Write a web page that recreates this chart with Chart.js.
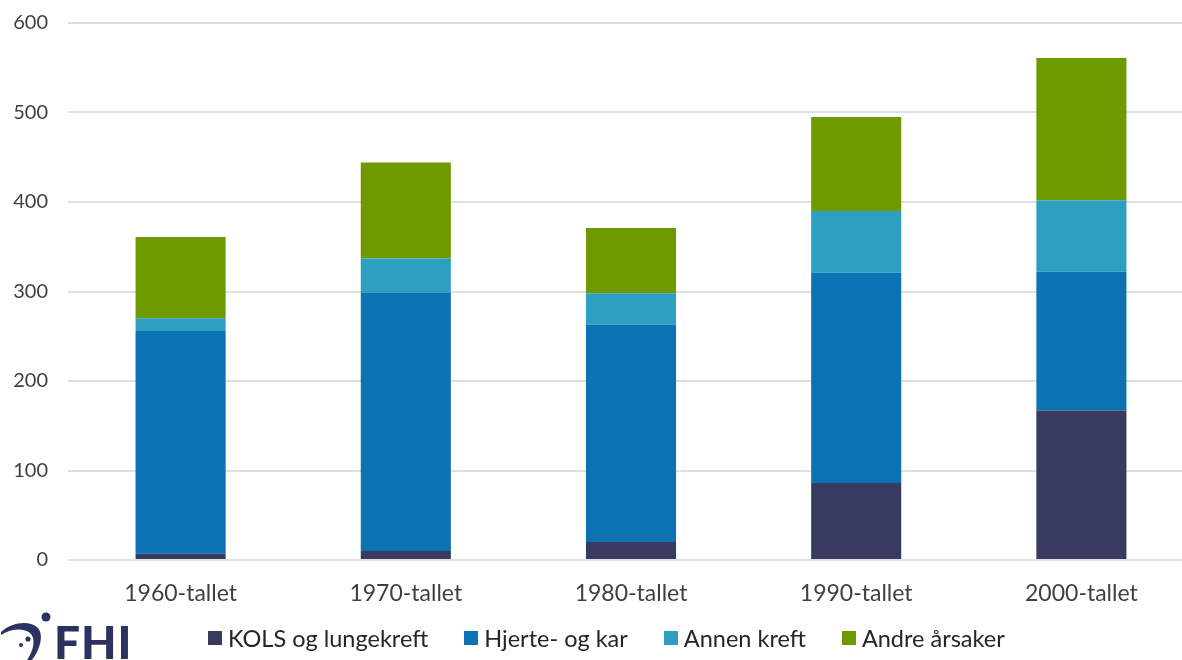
<!DOCTYPE html>
<html lang="no">
<head>
<meta charset="utf-8">
<title>Dødsårsaker per tiår</title>
<script src="https://cdn.jsdelivr.net/npm/chart.js@4/dist/chart.umd.min.js"></script>
<style>
  html, body { margin: 0; padding: 0; background: #fff; overflow: hidden; }
  body { width: 1182px; height: 660px; position: relative; font-family: Lato, "Open Sans", sans-serif; }
  #wrap { position: absolute; left: 0; top: -9px; width: 1194px; height: 669px; }
  #legend {
    position: absolute; left: 208px; top: 624px;
    display: flex; gap: 36px; align-items: center;
    font-size: 23.5px; color: #262626; white-space: nowrap;
  }
  #legend .item { display: flex; align-items: center; }
  #legend .box  { width: 14px; height: 14px; margin-right: 6px; }
  #logo { position: absolute; left: 0; top: 608px; width: 140px; height: 52px; overflow: hidden; }
  #logo span {
    position: absolute; left: 54px; top: 6px;
    font: 900 46px Lato, sans-serif; color: #2b3160; letter-spacing: 1px;
  }
</style>
</head>
<body>
<div id="wrap"><canvas id="chart" width="1194" height="669"></canvas></div>
<div id="logo">
  <svg width="52" height="52" viewBox="0 0 52 52">
    <path d="M1 24 C 12 14, 30 12, 38 20 C 44 27, 40 42, 32 52 L 27 52 C 34 42, 36 30, 30 25 C 24 20, 12 20, 1 27 Z" fill="#2b3160"/>
    <circle cx="46" cy="9" r="4.5" fill="#2b3160"/>
    <circle cx="28" cy="31" r="2.6" fill="#2b3160"/>
    <circle cx="21" cy="37" r="2" fill="#2b3160"/>
  </svg>
  <span>FHI</span>
</div>
<div id="legend"></div>

<script>
'use strict';

// ── Data ────────────────────────────────────────────────
const decades   = ['1960-tallet', '1970-tallet', '1980-tallet', '1990-tallet', '2000-tallet'];
const kolsLunge = [7, 10, 20, 86, 167];
const hjerteKar = [249, 289, 243, 235, 155];
const annenKreft = [14, 38, 35, 69, 80];
const andre     = [91, 107, 73, 105, 159];
const yTicks    = [0, 100, 200, 300, 400, 500, 600];

const seriesNames  = ['KOLS og lungekreft', 'Hjerte- og kar', 'Annen kreft', 'Andre årsaker'];
const seriesColors = ['#393a5f', '#0b73b4', '#2da0c1', '#6e9a00'];
const seriesData   = [kolsLunge, hjerteKar, annenKreft, andre];

const TXT = '#404040';

// ── Chart ───────────────────────────────────────────────
const chart = new Chart(document.getElementById('chart'), {
  type: 'bar',
  data: {
    labels: decades,
    datasets: seriesNames.map((name, i) => ({
      label: name,
      data: seriesData[i],
      backgroundColor: seriesColors[i],
      borderWidth: 0,
      categoryPercentage: 1,
      barPercentage: 0.4,
    })),
  },
  options: {
    responsive: false,
    devicePixelRatio: 1,
    animation: false,
    layout: { padding: { top: 14, right: 0, bottom: 0, left: 0 } },
    plugins: { legend: { display: false }, tooltip: { enabled: false } },
    scales: {
      x: {
        stacked: true,
        grid: { display: false },
        border: { display: false },
        ticks: { font: { family: 'Lato', size: 23 }, color: TXT, padding: 12, maxRotation: 0 },
        afterFit: s => { s.height = 100; },
      },
      y: {
        stacked: true,
        min: yTicks[0],
        max: yTicks[yTicks.length - 1],
        afterBuildTicks: s => { s.ticks = yTicks.map(v => ({ value: v })); },
        grid: { color: '#e0e0e0', lineWidth: 2, drawTicks: false },
        border: { display: false },
        ticks: { font: { family: 'Lato', size: 20 }, color: TXT, padding: 20 },
        afterFit: s => { s.width = 68; },
      },
    },
  },
});

// ── Legend ──────────────────────────────────────────────
const legend = document.getElementById('legend');
chart.data.datasets.forEach(ds => {
  const item = document.createElement('div');
  item.className = 'item';
  item.innerHTML = `<span class="box" style="background:${ds.backgroundColor}"></span><span>${ds.label}</span>`;
  legend.appendChild(item);
});
</script>
</body>
</html>
